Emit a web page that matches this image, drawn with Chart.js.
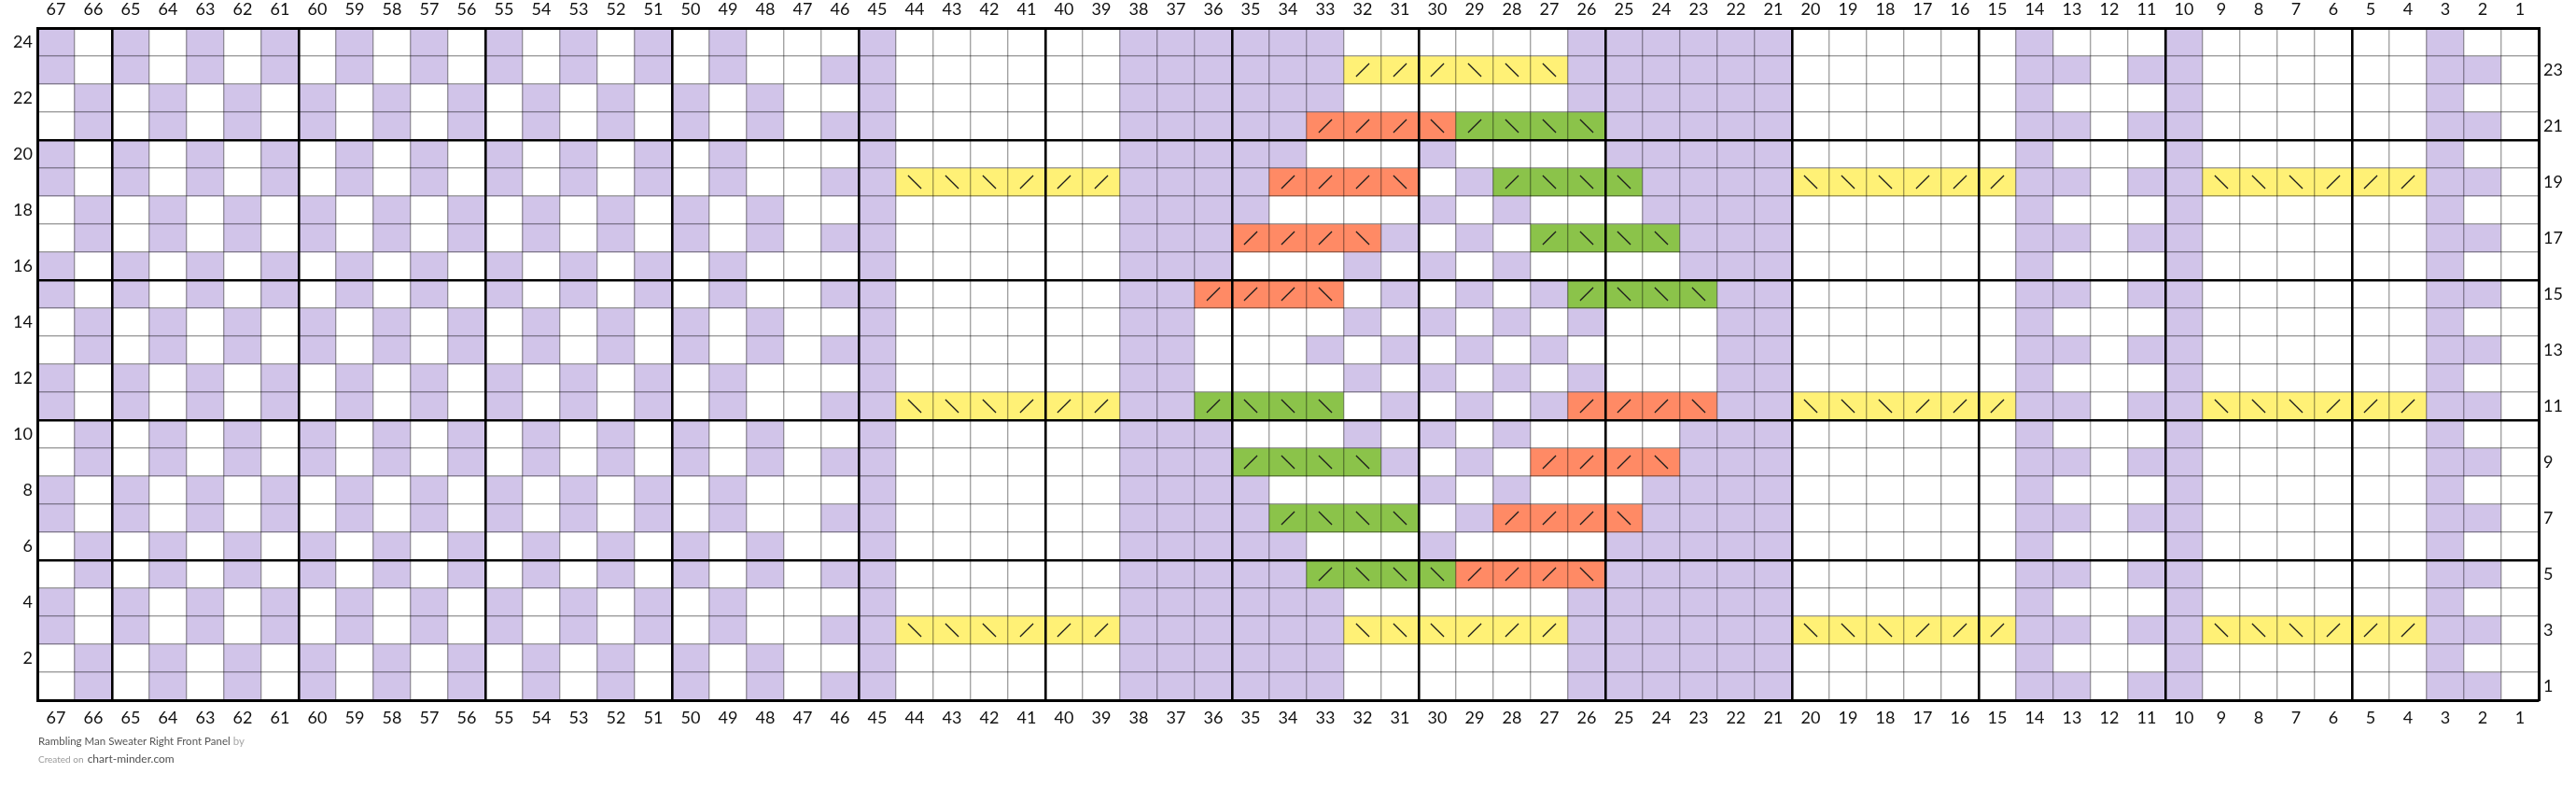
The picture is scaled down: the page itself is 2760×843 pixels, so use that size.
<!DOCTYPE html>
<html>
<head>
<meta charset="utf-8">
<title>Rambling Man Sweater Right Front Panel</title>
<script src="https://cdn.jsdelivr.net/npm/chart.js@4.4.1/dist/chart.umd.min.js"></script>
<style>
  html, body { margin: 0; padding: 0; background: #ffffff; }
  #wrap { position: relative; width: 2760px; height: 843px; }
  #c { position: absolute; left: 0; top: 0; }
  .foot { position: absolute; left: 41px; white-space: nowrap; font-family: Lato, "Noto Sans", sans-serif; line-height: 14px; }
  #foot1 { top: 787px; font-size: 11.5px; color: #555555; }
  #foot1 .by { color: #a8a8a8; }
  #foot2 { top: 804px; }
  #foot2 .created { font-size: 10px; color: #9a9a9a; }
  #foot2 .site { font-size: 12px; color: #505050; }
</style>
</head>
<body>
<div id="wrap">
  <canvas id="c" width="2760" height="843"></canvas>
  <div id="foot1" class="foot">Rambling Man Sweater Right Front Panel <span class="by">by</span></div>
  <div id="foot2" class="foot"><span class="created">Created on</span> <span class="site">chart-minder.com</span></div>
</div>
<script>
// ---------------- DATA ----------------
// Column numbers, left to right
const COLUMNS = ['67','66','65','64','63','62','61','60','59','58','57','56','55','54','53','52','51','50','49','48',
                 '47','46','45','44','43','42','41','40','39','38','37','36','35','34','33','32','31','30','29','28',
                 '27','26','25','24','23','22','21','20','19','18','17','16','15','14','13','12','11','10','9','8',
                 '7','6','5','4','3','2','1'];

// Row numbers, top to bottom
const ROWS = [24, 23, 22, 21, 20, 19, 18, 17, 16, 15, 14, 13, 12, 11, 10, 9, 8, 7, 6, 5, 4, 3, 2, 1];

// Row tick labels: even rows on the left, odd rows on the right
const LEFT_ROW_LABELS  = ['24','22','20','18','16','14','12','10','8','6','4','2'];
const RIGHT_ROW_LABELS = ['23','21','19','17','15','13','11','9','7','5','3','1'];

// Cell codes per row (col 67 -> col 1), '|' only separates panels for readability.
// '.' knit (white), 'p' purl (lilac), Y/y yellow cable, O/o orange cable, G/g green cable
// upper case = '/' lean, lower case = '\' lean
const CELLS = [
  "p.p.p.p.p.p.p.p.p.p.|..p|......|pppppp......pppppp|......|p...p|......|p..", // 24
  "p.p.p.p.p.p.p.p.p.p.|.pp|......|ppppppYYYyyypppppp|......|pp.pp|......|pp.", // 23
  ".p.p.p.p.p.p.p.p.p.p|..p|......|pppppp......pppppp|......|p...p|......|p..", // 22
  ".p.p.p.p.p.p.p.p.p.p|.pp|......|pppppOOOoGgggppppp|......|pp.pp|......|pp.", // 21
  "p.p.p.p.p.p.p.p.p.p.|..p|......|ppppp...p....ppppp|......|p...p|......|p..", // 20
  "p.p.p.p.p.p.p.p.p.p.|.pp|yyyYYY|ppppOOOo.pGgggpppp|yyyYYY|pp.pp|yyyYYY|pp.", // 19
  ".p.p.p.p.p.p.p.p.p.p|..p|......|pppp....p.p...pppp|......|p...p|......|p..", // 18
  ".p.p.p.p.p.p.p.p.p.p|.pp|......|pppOOOop.p.Ggggppp|......|pp.pp|......|pp.", // 17
  "p.p.p.p.p.p.p.p.p.p.|..p|......|ppp...p.p.p....ppp|......|p...p|......|p..", // 16
  "p.p.p.p.p.p.p.p.p.p.|.pp|......|ppOOOo.p.p.pGgggpp|......|pp.pp|......|pp.", // 15
  ".p.p.p.p.p.p.p.p.p.p|..p|......|pp....p.p.p.p...pp|......|p...p|......|p..", // 14
  ".p.p.p.p.p.p.p.p.p.p|.pp|......|pp...p.p.p.p....pp|......|pp.pp|......|pp.", // 13
  "p.p.p.p.p.p.p.p.p.p.|..p|......|pp....p.p.p.p...pp|......|p...p|......|p..", // 12
  "p.p.p.p.p.p.p.p.p.p.|.pp|yyyYYY|ppGggg.p.p.pOOOopp|yyyYYY|pp.pp|yyyYYY|pp.", // 11
  ".p.p.p.p.p.p.p.p.p.p|..p|......|ppp...p.p.p....ppp|......|p...p|......|p..", // 10
  ".p.p.p.p.p.p.p.p.p.p|.pp|......|pppGgggp.p.OOOoppp|......|pp.pp|......|pp.", // 9
  "p.p.p.p.p.p.p.p.p.p.|..p|......|pppp....p.p...pppp|......|p...p|......|p..", // 8
  "p.p.p.p.p.p.p.p.p.p.|.pp|......|ppppGggg.pOOOopppp|......|pp.pp|......|pp.", // 7
  ".p.p.p.p.p.p.p.p.p.p|..p|......|ppppp...p....ppppp|......|p...p|......|p..", // 6
  ".p.p.p.p.p.p.p.p.p.p|.pp|......|pppppGgggOOOoppppp|......|pp.pp|......|pp.", // 5
  "p.p.p.p.p.p.p.p.p.p.|..p|......|pppppp......pppppp|......|p...p|......|p..", // 4
  "p.p.p.p.p.p.p.p.p.p.|.pp|yyyYYY|ppppppyyyYYYpppppp|yyyYYY|pp.pp|yyyYYY|pp.", // 3
  ".p.p.p.p.p.p.p.p.p.p|..p|......|pppppp......pppppp|......|p...p|......|p..", // 2
  ".p.p.p.p.p.p.p.p.p.p|.pp|......|pppppp......pppppp|......|pp.pp|......|pp."  // 1
];

// ---------------- STYLES ----------------
const CELL_COLORS = {
  '.': '#ffffff', 'p': '#d1c4e9',
  'Y': '#fff176', 'y': '#fff176',
  'O': '#ff8a65', 'o': '#ff8a65',
  'G': '#8bc34a', 'g': '#8bc34a'
};
const SLASH_ROT = { 'Y': -45, 'O': -45, 'G': -45, 'y': 45, 'o': 45, 'g': 45 };
const THIN = 'rgba(0,0,0,0.36)';
const THICK = '#000000';
const FONT = { family: 'Lato, "Noto Sans", sans-serif', size: 18 };

// ---------------- BUILD ----------------
const datasets = [];
const slashPts = [];
const slashRot = [];

ROWS.forEach((row, i) => {
  const codes = CELLS[i].replace(/\|/g, '').split('');
  if (codes.length !== COLUMNS.length) console.error('row ' + row + ' has ' + codes.length + ' cells');
  datasets.push({
    type: 'bar',
    label: 'Row ' + row,
    data: COLUMNS.map(() => [row - 1, row]),
    backgroundColor: codes.map(c => CELL_COLORS[c] || '#ffffff'),
    borderWidth: 0,
    grouped: false,
    categoryPercentage: 1.0,
    barPercentage: 1.0,
    order: 1
  });
  codes.forEach((c, j) => {
    if (SLASH_ROT[c] !== undefined) {
      slashPts.push({ x: COLUMNS[j], y: row - 0.5 });
      slashRot.push(SLASH_ROT[c]);
    }
  });
});

datasets.push({
  type: 'scatter',
  label: 'cables',
  data: slashPts,
  pointStyle: 'line',
  pointRadius: 10,
  pointHoverRadius: 10,
  pointRotation: slashRot,
  pointBorderColor: '#1c1c1c',
  pointBackgroundColor: '#1c1c1c',
  pointBorderWidth: 1.3,
  showLine: false,
  order: -1,
  xAxisID: 'x',
  yAxisID: 'y'
});

const yTickValues = [0];
ROWS.slice().reverse().forEach(r => { yTickValues.push(r - 0.5, r); });

function isBoundary(v) { return Math.abs(v - Math.round(v)) < 1e-6; }

function yGridColor(ctx) {
  const v = ctx.tick ? ctx.tick.value : 0;
  if (!isBoundary(v)) return 'rgba(0,0,0,0)';
  return (v % 5 === 0) ? THICK : THIN;
}
function yGridWidth(ctx) {
  const v = ctx.tick ? ctx.tick.value : 0;
  if (!isBoundary(v)) return 0;
  return (v % 5 === 0) ? 2.6 : 1.4;
}
function xGridColor(ctx) {
  if (ctx.index === undefined) return THICK;
  return (Number(COLUMNS[ctx.index]) % 5 === 0) ? THICK : THIN;
}
function xGridWidth(ctx) {
  if (ctx.index === undefined) return 2.6;
  return (Number(COLUMNS[ctx.index]) % 5 === 0) ? 2.6 : 1.4;
}

function rowLabel(labels) {
  return function (value) {
    if (isBoundary(value)) return '';
    const r = String(Math.round(value + 0.5));
    return labels.includes(r) ? r : '';
  };
}

const tickCommon = { autoSkip: false, maxRotation: 0, minRotation: 0, color: '#111111', font: FONT };

new Chart(document.getElementById('c'), {
  type: 'bar',
  data: { labels: COLUMNS, datasets: datasets },
  options: {
    responsive: false,
    maintainAspectRatio: false,
    animation: false,
    events: [],
    layout: { padding: 0 },
    plugins: { legend: { display: false }, tooltip: { enabled: false }, title: { display: false } },
    scales: {
      x: {
        type: 'category', position: 'bottom', offset: true,
        grid: { offset: true, drawTicks: false, z: 1, color: xGridColor, lineWidth: xGridWidth },
        border: { display: true, color: THICK, width: 3, z: 2 },
        ticks: Object.assign({}, tickCommon, { padding: 8 }),
        afterFit: s => { s.height = 93; }
      },
      x2: {
        type: 'category', position: 'top', offset: true, labels: COLUMNS,
        grid: { offset: true, drawTicks: false, drawOnChartArea: false },
        border: { display: true, color: THICK, width: 3, z: 2 },
        ticks: Object.assign({}, tickCommon, { padding: 9 }),
        afterFit: s => { s.height = 30; }
      },
      y: {
        type: 'linear', position: 'left', min: 0, max: 24,
        afterBuildTicks: s => { s.ticks = yTickValues.map(v => ({ value: v })); },
        grid: { drawTicks: false, z: 1, color: yGridColor, lineWidth: yGridWidth },
        border: { display: true, color: THICK, width: 3, z: 2 },
        ticks: Object.assign({}, tickCommon, { padding: 5, callback: rowLabel(LEFT_ROW_LABELS) }),
        afterFit: s => { s.width = 40; }
      },
      y2: {
        type: 'linear', position: 'right', min: 0, max: 24,
        afterBuildTicks: s => { s.ticks = yTickValues.map(v => ({ value: v })); },
        grid: { drawTicks: false, drawOnChartArea: false },
        border: { display: true, color: THICK, width: 3, z: 2 },
        ticks: Object.assign({}, tickCommon, { padding: 5, callback: rowLabel(RIGHT_ROW_LABELS) }),
        afterFit: s => { s.width = 40; }
      }
    }
  }
});
</script>
</body>
</html>
